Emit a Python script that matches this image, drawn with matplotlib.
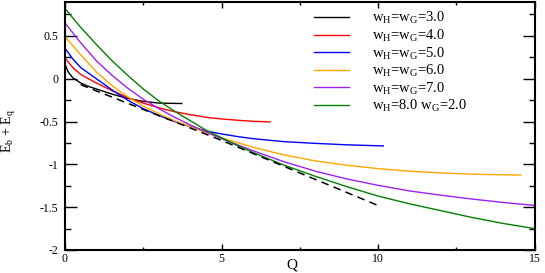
import matplotlib
matplotlib.use("Agg")
import matplotlib.pyplot as plt
from matplotlib.ticker import MultipleLocator

plt.rcParams['font.family'] = ['Liberation Serif', 'DejaVu Serif']
plt.rcParams['mathtext.fontset'] = 'custom'
plt.rcParams['mathtext.rm'] = 'Liberation Serif'
plt.rcParams['mathtext.it'] = 'Liberation Serif:italic'

# ---- data ----
q_w3 = [0, 0.1, 0.25, 0.5, 0.75, 1.0, 1.5, 2.0, 2.5, 3.0, 3.73]
e_w3 = [0.17, 0.08, 0.01, -0.05, -0.09, -0.12, -0.18, -0.23, -0.265, -0.285, -0.29]

q_w4 = [0, 0.25, 0.5, 1, 1.5, 2, 2.5, 3, 3.5, 4, 4.5, 5, 5.5, 6, 6.55]
e_w4 = [0.24, 0.13, 0.05, -0.05, -0.14, -0.22, -0.285, -0.34, -0.385, -0.42,
        -0.45, -0.47, -0.485, -0.497, -0.505]

q_w5 = [0, 0.25, 0.5, 1, 1.5, 2, 2.5, 3, 3.5, 4, 4.5, 5, 5.5, 6, 7, 8, 9, 10.17]
e_w5 = [0.355, 0.23, 0.13, 0.0, -0.13, -0.25, -0.35, -0.43, -0.50, -0.56,
        -0.61, -0.645, -0.675, -0.70, -0.735, -0.755, -0.772, -0.785]

q_w6 = [0, 0.5, 1, 1.5, 2, 2.5, 3, 3.5, 4, 4.5, 5, 5.5, 6, 7, 8, 9, 10, 11, 12, 13, 14, 14.56]
e_w6 = [0.49, 0.28, 0.08, -0.08, -0.21, -0.32, -0.41, -0.49, -0.56, -0.63, -0.69,
        -0.745, -0.80, -0.89, -0.96, -1.01, -1.05, -1.08, -1.10, -1.115, -1.122, -1.125]

q_w7 = [0, 0.5, 1, 1.5, 2, 2.5, 3, 3.5, 4, 4.5, 5, 5.5, 6, 7, 8, 9, 10, 11, 12, 13, 14, 15]
e_w7 = [0.65, 0.42, 0.21, 0.04, -0.11, -0.24, -0.35, -0.45, -0.54, -0.62, -0.70,
        -0.77, -0.84, -0.97, -1.08, -1.17, -1.245, -1.31, -1.36, -1.405, -1.445, -1.48]

q_w8 = [0, 0.5, 1, 1.5, 2, 2.5, 3, 3.5, 4, 4.5, 5, 5.5, 6, 7, 8, 9, 10, 11, 12, 13, 14, 15]
e_w8 = [0.82, 0.60, 0.40, 0.21, 0.04, -0.12, -0.26, -0.38, -0.49, -0.60, -0.69,
        -0.78, -0.86, -1.01, -1.14, -1.26, -1.37, -1.46, -1.54, -1.62, -1.69, -1.75]

q_dash = [0.5, 5, 10]
e_dash = [-0.07, -0.72, -1.48]

labels = [r'w$_{\rm H}$=w$_{\rm G}$=3.0', r'w$_{\rm H}$=w$_{\rm G}$=4.0',
          r'w$_{\rm H}$=w$_{\rm G}$=5.0', r'w$_{\rm H}$=w$_{\rm G}$=6.0',
          r'w$_{\rm H}$=w$_{\rm G}$=7.0', r'w$_{\rm H}$=8.0 w$_{\rm G}$=2.0']
colors = ['black', 'red', 'blue', 'orange', '#a020f0', 'green']

fig = plt.figure(figsize=(5.45, 2.73), dpi=100)
ax = fig.add_axes([65/545, 1 - 250/273, 469.5/545, 248.4/273])

series = [(q_w3, e_w3), (q_w4, e_w4), (q_w5, e_w5), (q_w6, e_w6), (q_w7, e_w7), (q_w8, e_w8)]
for (q, e), c, lab in zip(series, colors, labels):
    ax.plot(q, e, color=c, lw=1.0, label=lab)
ax.plot(q_dash, e_dash, color='black', lw=1.1, ls=(0, (5, 3.5)))

ax.set_xlim(0, 15)
ax.set_ylim(-2, 0.9)
ax.xaxis.set_major_locator(MultipleLocator(5))
ax.xaxis.set_minor_locator(MultipleLocator(2.5))
ax.yaxis.set_major_locator(MultipleLocator(0.5))
ax.yaxis.set_minor_locator(MultipleLocator(0.25))
ax.set_yticks([-2, -1.5, -1, -0.5, 0, 0.5])
ax.set_yticklabels(['-2', '-1.5', '-1', '-0.5', '0', '0.5'])
ax.tick_params(axis='x', which='major', direction='in', length=4.3, width=1, top=True,
               labelsize=8.5, pad=2)
ax.tick_params(axis='x', which='minor', direction='in', length=2.2, width=1, top=True)
ax.tick_params(axis='y', which='major', direction='in', length=8.5, width=1, right=True,
               labelsize=8.5, pad=5)
ax.tick_params(axis='y', which='minor', direction='in', length=4.3, width=1, right=True)
for s in ax.spines.values():
    s.set_linewidth(1.5)

ax.set_xlabel('Q', fontsize=11)
ax.xaxis.set_label_coords((292 - 65) / 469.5, -15 / 248.4)
ax.xaxis.label.set_va('center')
ax.set_ylabel(r'E$_{\rm b}$ + E$_{\rm q}$', fontsize=10)
ax.yaxis.set_label_coords((9 - 65) / 469.5, (250 - 131) / 248.4)
ax.yaxis.label.set_va('center')

ax.legend(loc='upper left', bbox_to_anchor=((305 - 65) / 469.5, 1.0), frameon=False,
          fontsize=10.5, handlelength=2.4, handletextpad=1.6, labelspacing=0.1,
          borderaxespad=0.2)

fig.savefig('out.png', dpi=100)
